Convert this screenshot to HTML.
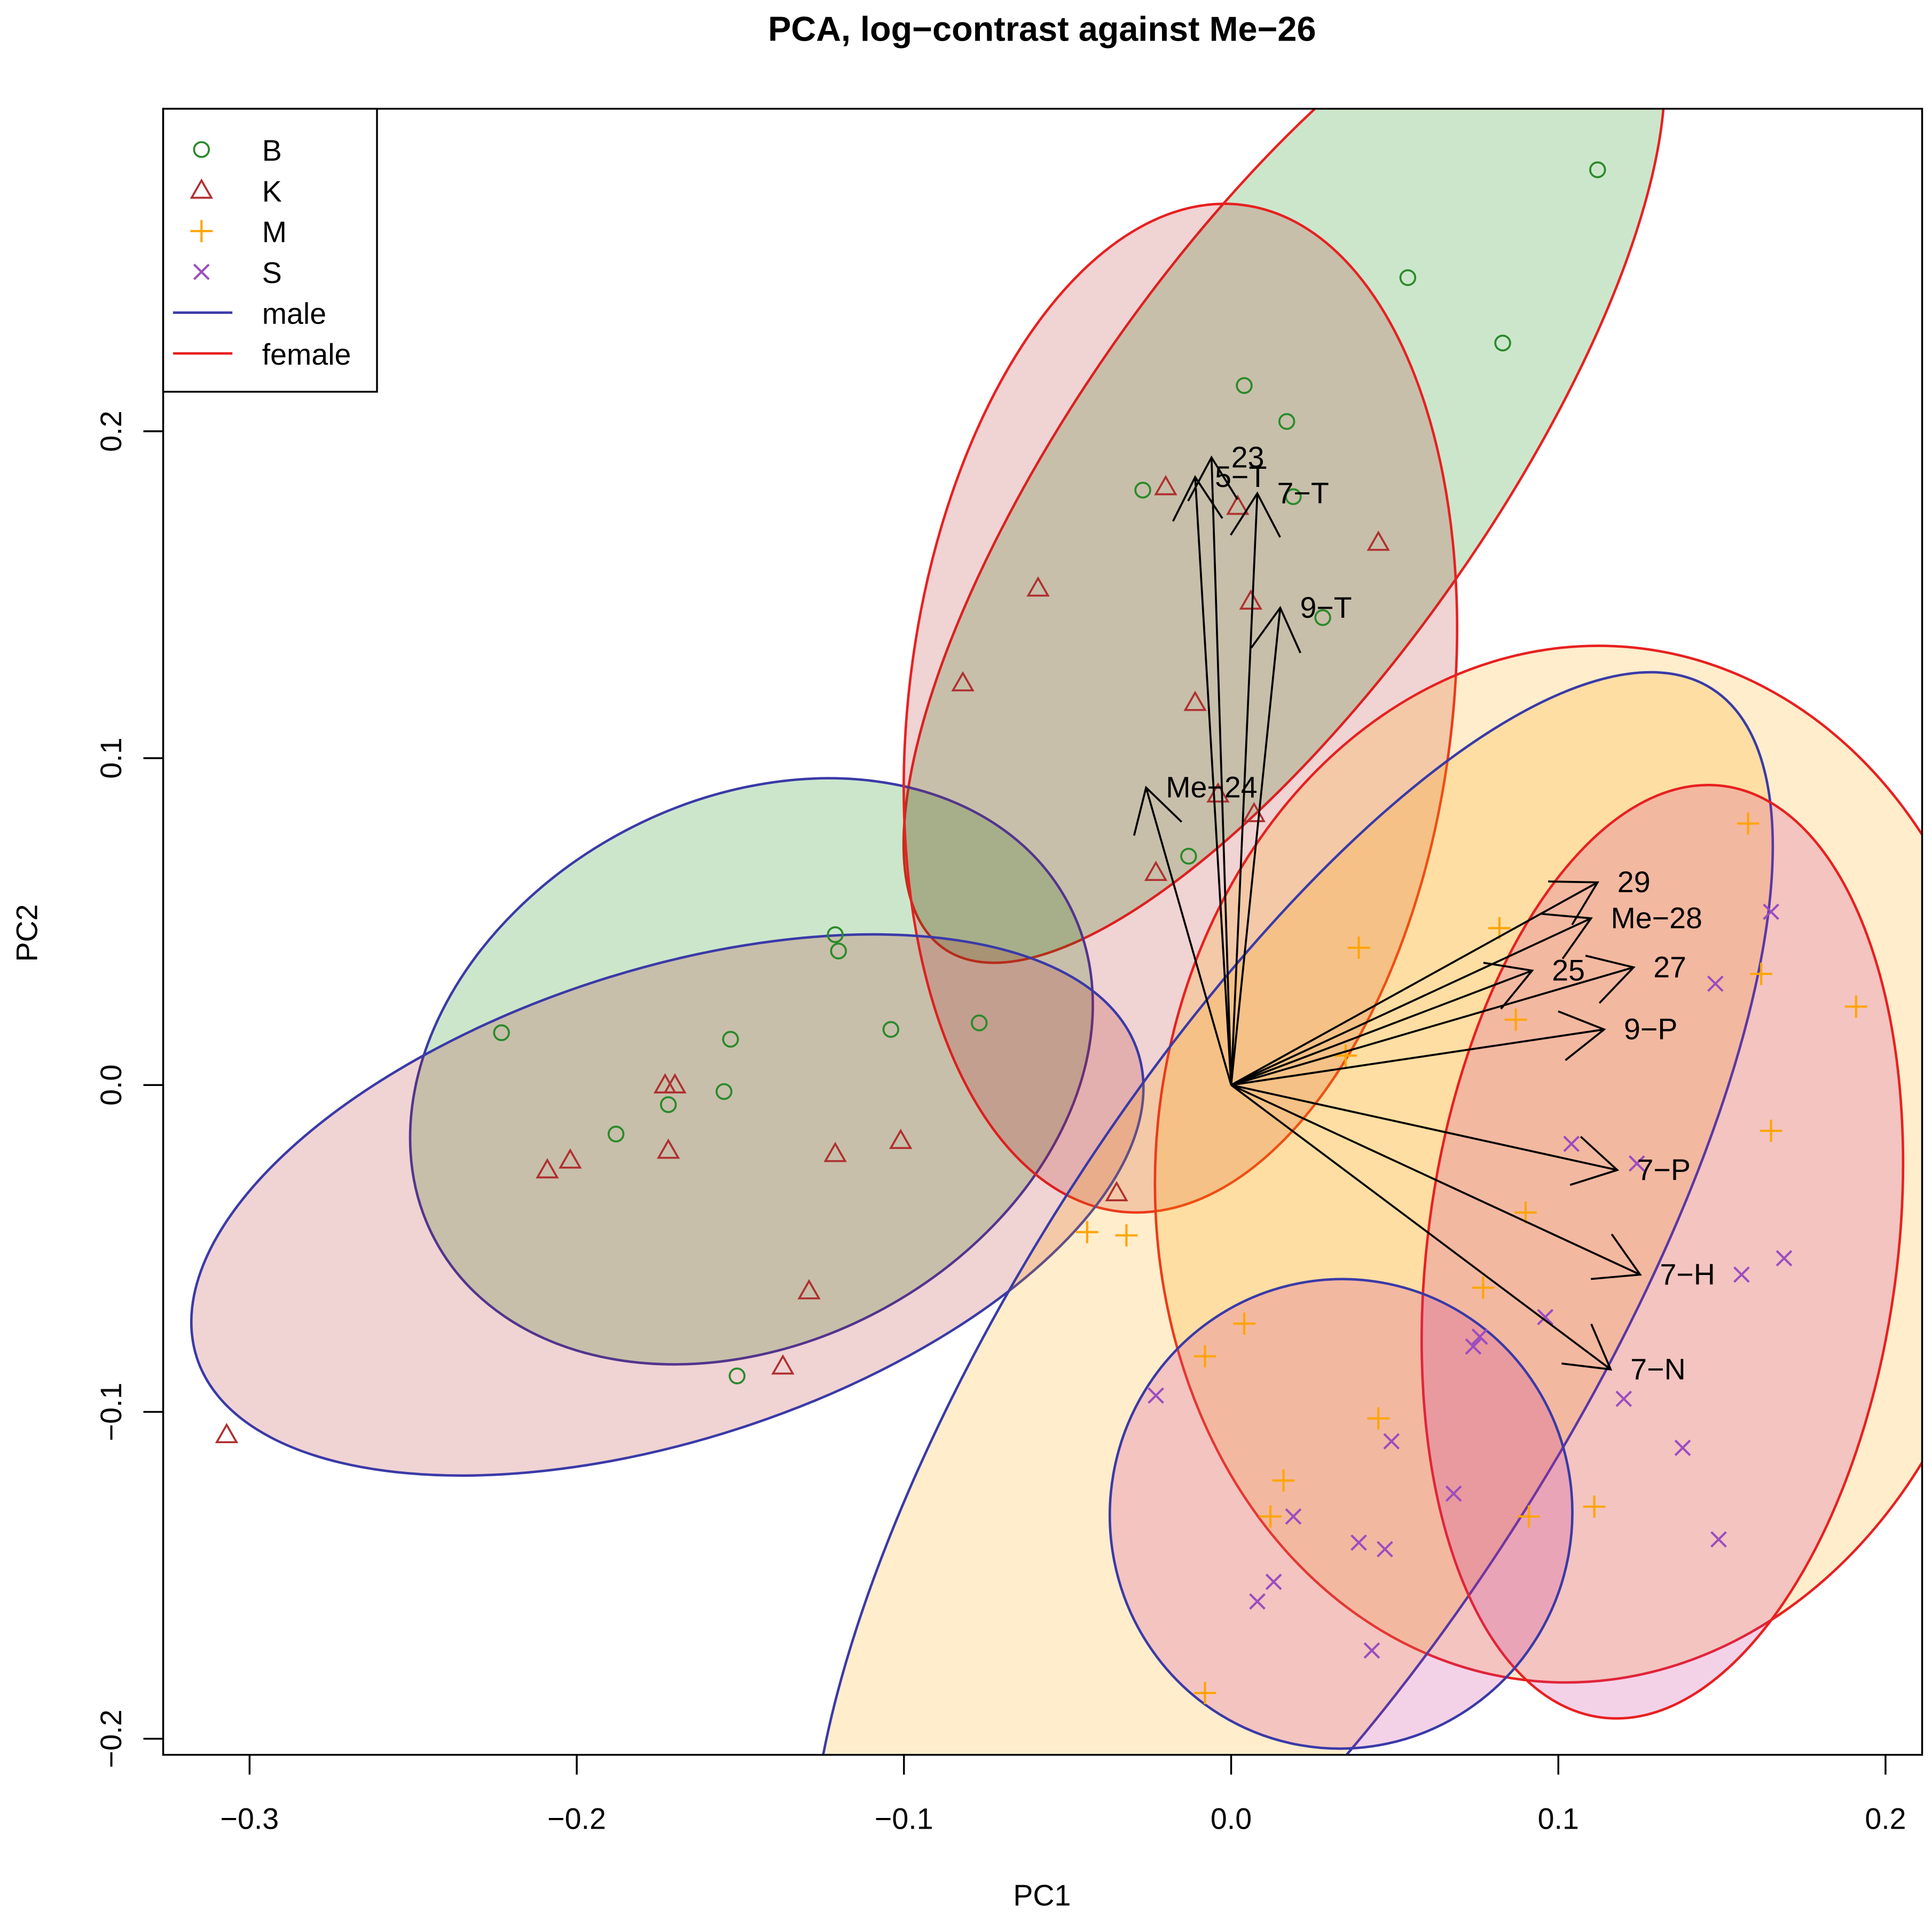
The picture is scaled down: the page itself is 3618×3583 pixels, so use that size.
<!DOCTYPE html>
<html><head><meta charset="utf-8"><style>
html,body{margin:0;padding:0;background:#fff;width:3618px;height:3583px;overflow:hidden;position:relative}
svg{display:block;position:absolute;left:0;top:0}
text{font-family:"Liberation Sans",sans-serif}
</style></head><body>
<svg id="chart" width="3618" height="3583" viewBox="0 0 1563 1548" preserveAspectRatio="none" xmlns="http://www.w3.org/2000/svg">
<defs><clipPath id="plotclip"><rect x="132" y="88" width="1423" height="1332"/></clipPath></defs>
<rect x="0" y="0" width="1563" height="1548" fill="#fff"/>
<text x="843" y="33" font-size="28" font-weight="bold" text-anchor="middle">PCA, log−contrast against Me−26</text>
<g id="ellipses" clip-path="url(#plotclip)"></g>
<g id="points" clip-path="url(#plotclip)"></g>
<g id="arrows"></g>
<rect x="132" y="88" width="1423" height="1332" fill="none" stroke="#000" stroke-width="1.5"/>
<g id="axes"></g>
<text x="843" y="1542" font-size="24" text-anchor="middle">PC1</text>
<text x="30" y="755" font-size="24" text-anchor="middle" transform="rotate(-90 30 755)">PC2</text>
<g>
<rect x="132" y="88" width="173" height="229" fill="#fff" stroke="#000" stroke-width="1.5"/>
<circle cx="163" cy="121" r="6" fill="none" stroke="#2a8a2a" stroke-width="1.6"/>
<text x="212" y="130" font-size="24">B</text>
<path d="M163 146 L171 160 L155 160 Z" fill="none" stroke="#b03030" stroke-width="1.6"/>
<text x="212" y="163" font-size="24">K</text>
<path d="M154 187 H172 M163 178 V196" stroke="#ffa500" stroke-width="1.8"/>
<text x="212" y="196" font-size="24">M</text>
<path d="M157 214 L169 226 M169 214 L157 226" stroke="#9b4dc0" stroke-width="1.8"/>
<text x="212" y="229" font-size="24">S</text>
<line x1="140" y1="253" x2="188" y2="253" stroke="#3a3aa8" stroke-width="2"/>
<text x="212" y="262" font-size="24">male</text>
<line x1="140" y1="286" x2="188" y2="286" stroke="#e82020" stroke-width="2"/>
<text x="212" y="295" font-size="24">female</text>
</g>
</svg>
<script>
const xTicks = [-0.3, -0.2, -0.1, 0.0, 0.1, 0.2];
const xTickLabels = ["−0.3", "−0.2", "−0.1", "0.0", "0.1", "0.2"];
const yTicks = [-0.2, -0.1, 0.0, 0.1, 0.2];
const yTickLabels = ["−0.2", "−0.1", "0.0", "0.1", "0.2"];
const bX = [0.112,0.054,0.083,0.004,0.017,-0.027,0.019,0.028,-0.013,-0.121,-0.120,-0.223,-0.153,-0.104,-0.077,-0.155,-0.188,-0.172,-0.151];
const bY = [0.280,0.247,0.227,0.214,0.203,0.182,0.180,0.143,0.070,0.046,0.041,0.016,0.014,0.017,0.019,-0.002,-0.015,-0.006,-0.089];
const kX = [-0.020,0.002,0.045,-0.059,0.006,-0.082,-0.011,0.007,-0.004,-0.023,-0.173,-0.170,-0.172,-0.209,-0.202,-0.121,-0.101,-0.035,-0.129,-0.137,-0.307];
const kY = [0.183,0.177,0.166,0.152,0.148,0.123,0.117,0.083,0.089,0.065,0.000,0.000,-0.020,-0.026,-0.023,-0.021,-0.017,-0.033,-0.063,-0.086,-0.107];
const mX = [0.158,0.039,0.082,0.087,0.162,0.191,0.035,0.165,0.090,-0.044,-0.032,0.077,0.004,-0.008,0.045,0.016,0.012,0.091,0.111,-0.008];
const mY = [0.080,0.042,0.048,0.020,0.034,0.024,0.009,-0.014,-0.039,-0.045,-0.046,-0.062,-0.073,-0.083,-0.102,-0.121,-0.132,-0.132,-0.129,-0.186];
const sX = [0.165,0.148,0.104,0.124,0.156,0.169,0.096,0.076,0.074,0.120,-0.023,0.049,0.138,0.068,0.019,0.039,0.047,0.013,0.008,0.149,0.043];
const sY = [0.053,0.031,-0.018,-0.024,-0.058,-0.053,-0.071,-0.077,-0.080,-0.096,-0.095,-0.109,-0.111,-0.125,-0.132,-0.140,-0.142,-0.152,-0.158,-0.139,-0.173];
const arrowNames = ["23","5−T","7−T","9−T","Me−24","29","Me−28","27","25","9−P","7−P","7−H","7−N"];
const arrowX = [-0.006,-0.011,0.008,0.015,-0.026,0.112,0.110,0.123,0.092,0.114,0.118,0.125,0.116];
const arrowY = [0.192,0.186,0.181,0.146,0.091,0.062,0.051,0.036,0.035,0.017,-0.026,-0.058,-0.087];
// ellipses: group, sex, center (data), semi-axes (data units), screen rotation (deg)
const ellGroup = ["B","B","K","K","M","M","S","S"];
const ellSex = ["female","male","female","male","female","male","female","male"];
const ellCX = [0.0162,-0.1466,-0.0155,-0.1723,0.1073,0.0185,0.1318,0.0336];
const ellCY = [0.1905,0.0042,0.1153,-0.0367,-0.0242,-0.0839,-0.0510,-0.1312];
const ellA = [0.1814,0.1096,0.155,0.1512,0.1587,0.2419,0.1436,0.0718];
const ellB = [0.0635,0.0831,0.0831,0.0718,0.1304,0.0850,0.0718,0.0707];
const ellRot = [-55,-28,-83,-18,-84.5,-58,-82.5,-80];

const NS = "http://www.w3.org/2000/svg";
const X0 = 996, Y0 = 878, SX = 2647, SY = 2645;
function X(v){ return X0 + v*SX; }
function Y(v){ return Y0 - v*SY; }
function mk(tag, attrs, parent){
  const e = document.createElementNS(NS, tag);
  for (const k in attrs) e.setAttribute(k, attrs[k]);
  parent.appendChild(e); return e;
}
const fills = {B:"rgba(0,128,0,0.2)",K:"rgba(178,34,34,0.2)",M:"rgba(255,165,0,0.2)",S:"rgba(200,50,150,0.22)"};
const strokes = {male:"#3a3aa8",female:"#e82020"};
const gE = document.getElementById("ellipses");
for (let i=0;i<ellCX.length;i++){
  const cx=X(ellCX[i]), cy=Y(ellCY[i]);
  const el = mk("ellipse",{cx:cx,cy:cy,rx:ellA[i]*SX,ry:ellB[i]*SY,transform:`rotate(${ellRot[i]} ${cx} ${cy})`,fill:fills[ellGroup[i]],stroke:strokes[ellSex[i]],"stroke-width":2},gE);
  
  
}
const gP = document.getElementById("points");
for (let i=0;i<bX.length;i++){
  const el = mk("circle",{cx:X(bX[i]),cy:Y(bY[i]),r:6,fill:"none",stroke:"#2a8a2a","stroke-width":1.6},gP);
  
  
}
for (let i=0;i<kX.length;i++){
  const x=X(kX[i]), y=Y(kY[i]);
  const el = mk("path",{d:`M${x} ${y-8} L${x+8} ${y+6} L${x-8} ${y+6} Z`,fill:"none",stroke:"#b03030","stroke-width":1.6},gP);
  
  
}
for (let i=0;i<mX.length;i++){
  const x=X(mX[i]), y=Y(mY[i]);
  const el = mk("path",{d:`M${x-9} ${y} H${x+9} M${x} ${y-9} V${y+9}`,stroke:"#ffa500","stroke-width":1.8},gP);
  
  
}
for (let i=0;i<sX.length;i++){
  const x=X(sX[i]), y=Y(sY[i]);
  const el = mk("path",{d:`M${x-6} ${y-6} L${x+6} ${y+6} M${x+6} ${y-6} L${x-6} ${y+6}`,stroke:"#9b4dc0","stroke-width":1.8},gP);
  
  
}
const gA = document.getElementById("arrows");
for (let i=0;i<arrowX.length;i++){
  const x1=X(0), y1=Y(0), x2=X(arrowX[i]), y2=Y(arrowY[i]);
  const ang = Math.atan2(y2-y1, x2-x1), L=40, h=Math.PI/6;
  const ax = x2 - L*Math.cos(ang-h), ay = y2 - L*Math.sin(ang-h);
  const bx = x2 - L*Math.cos(ang+h), by = y2 - L*Math.sin(ang+h);
  const el = mk("path",{d:`M${x1} ${y1} L${x2} ${y2} M${ax} ${ay} L${x2} ${y2} L${bx} ${by}`,fill:"none",stroke:"#000","stroke-width":1.6},gA);
  
  
  const t = mk("text",{x:x2+16,y:y2+8,"font-size":24},gA);
  t.textContent = arrowNames[i];
  
  
}
const gX = document.getElementById("axes");
for (let i=0;i<xTicks.length;i++){
  const x=X(xTicks[i]);
  const l = mk("line",{x1:x,y1:1420,x2:x,y2:1436,stroke:"#000","stroke-width":1.5},gX);
  
  
  const t = mk("text",{x:x,y:1480,"font-size":24,"text-anchor":"middle"},gX);
  t.textContent = xTickLabels[i];
  
  
}
for (let i=0;i<yTicks.length;i++){
  const y=Y(yTicks[i]);
  const l = mk("line",{x1:116,y1:y,x2:132,y2:y,stroke:"#000","stroke-width":1.5},gX);
  
  
  const t = mk("text",{x:98,y:y,"font-size":24,"text-anchor":"middle",transform:`rotate(-90 98 ${y})`},gX);
  t.textContent = yTickLabels[i];
  
  
}
</script>
</body></html>
